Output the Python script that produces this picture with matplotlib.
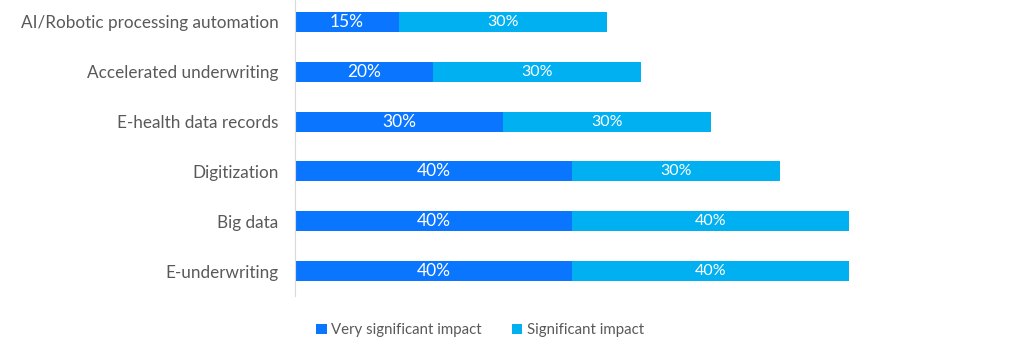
import matplotlib.pyplot as plt
import numpy as np

# data
categories = ["AI/Robotic processing automation", "Accelerated underwriting",
              "E-health data records", "Digitization", "Big data", "E-underwriting"]
very_significant = [15, 20, 30, 40, 40, 40]
significant = [30, 30, 30, 30, 40, 40]
series_names = ["Very significant impact", "Significant impact"]

dark = "#0A76FF"
light = "#00B0F0"
grey = "#595959"

plt.rcParams['font.family'] = ['Lato', 'DejaVu Sans']

fig = plt.figure(figsize=(10.12, 3.61), dpi=100)
ax = fig.add_axes([295 / 1012, 1 - 296 / 361, (849 - 295) / 1012, 296 / 361])

y = np.arange(len(categories))
b1 = ax.barh(y, very_significant, height=0.40, color=dark, label=series_names[0])
b2 = ax.barh(y, significant, left=very_significant, height=0.40, color=light,
             label=series_names[1])

for rect, v in zip(b1, very_significant):
    ax.text(rect.get_x() + rect.get_width() / 2, rect.get_y() + rect.get_height() / 2,
            f"{v}%", ha="center", va="center", color="white", fontsize=12.5)
for rect, v in zip(b2, significant):
    ax.text(rect.get_x() + rect.get_width() / 2, rect.get_y() + rect.get_height() / 2,
            f"{v}%", ha="center", va="center", color="white", fontsize=11.5)

ax.set_xlim(0, 80)
ax.set_ylim(5.5, -0.44)
ax.set_yticks(y, categories)
ax.tick_params(axis="y", length=0, pad=12, labelcolor=grey, labelsize=12.3)
ax.set_xticks([])
for s in ["top", "right", "bottom"]:
    ax.spines[s].set_visible(False)
ax.spines["left"].set_color("#D9D9D9")
ax.spines["left"].set_position(("data", 0))

fig.legend(loc="center", bbox_to_anchor=(480 / 1012, 1 - 330 / 361), ncol=2,
           frameon=False, fontsize=10.8, labelcolor=grey, handlelength=0.7,
           handleheight=0.7, handletextpad=0.3, columnspacing=2.0)

fig.savefig("out.png", dpi=100)
